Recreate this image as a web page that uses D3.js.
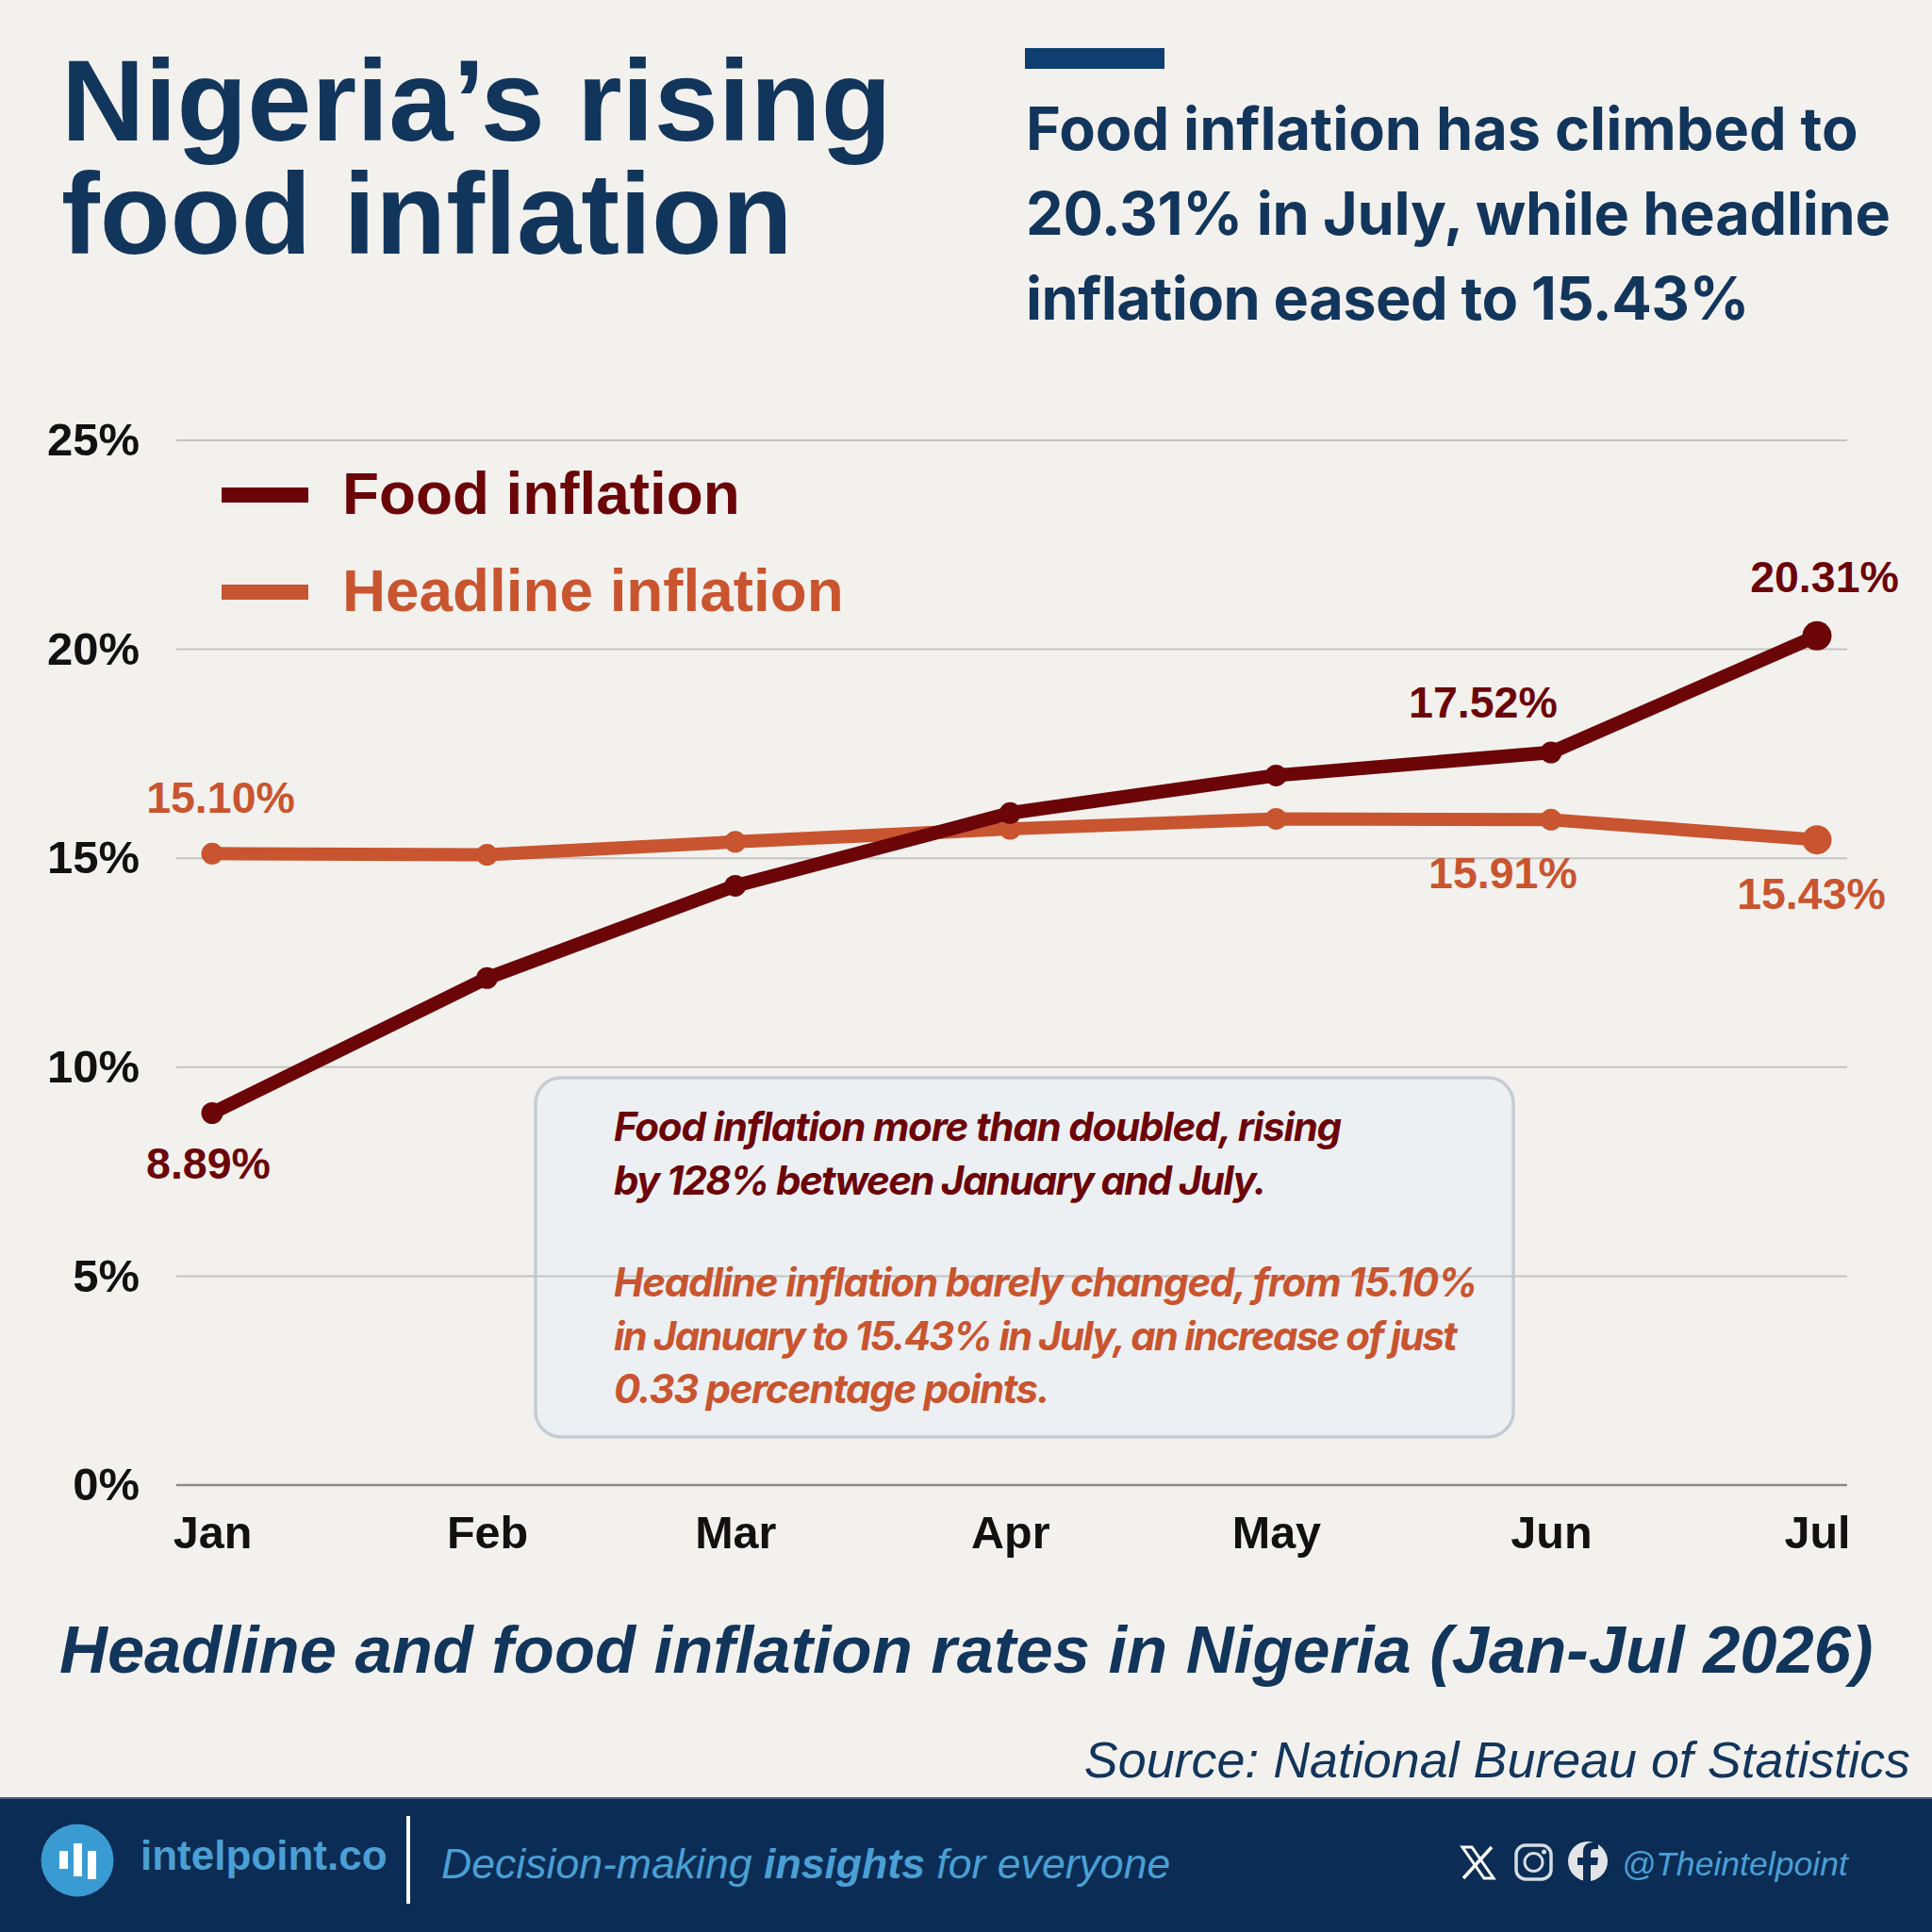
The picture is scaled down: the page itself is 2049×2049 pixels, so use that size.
<!DOCTYPE html>
<html><head><meta charset="utf-8">
<script src="https://cdnjs.cloudflare.com/ajax/libs/d3/7.8.5/d3.min.js"></script>
<style>html,body{margin:0;padding:0;background:#f3f1ee}svg{display:block}
.sans{font-family:"Liberation Sans",Arial,sans-serif}
.inter{font-family:Inter,sans-serif}</style></head><body>
<script>
const months = ["Jan","Feb","Mar","Apr","May","Jun","Jul"];
const monthDates = months.map((m,i)=>new Date(2026,i,1));
const foodInflation = [8.89,12.12,14.33,16.07,16.97,17.52,20.31];
const headlineInflation = [15.10,15.07,15.38,15.69,15.93,15.91,15.43];
const yTicks = [0,5,10,15,20,25];
const foodLabels = [[0,"8.89%"],[5,"17.52%"],[6,"20.31%"]];
const headlineLabels = [[0,"15.10%"],[5,"15.91%"],[6,"15.43%"]];
const titleLines = ["Nigeria’s rising","food inflation"];
const subtitleLines = ["Food inflation has climbed to","20.31% in July, while headline","inflation eased to 15.43%"];
const noteFood = ["Food inflation more than doubled, rising","by 128% between January and July."];
const noteHeadline = ["Headline inflation barely changed, from 15.10%","in January to 15.43% in July, an increase of just","0.33 percentage points."];

const W=2049,H=2049;
const NAVY="#12355b",FOOD="#6b0508",HEAD="#c8552f",FOOT="#0b2c54",BLUE="#4a9fd4";
const svg=d3.select("body").append("svg").attr("width",W).attr("height",H).attr("viewBox",`0 0 ${W} ${H}`);
svg.append("rect").attr("width",W).attr("height",H).attr("fill","#f3f1ee");
function T(x,y,s,size,fill,o={}){
  return svg.append("text").attr("x",x).attr("y",y).text(s).attr("class",o.cls||"sans")
   .attr("font-size",size).attr("fill",fill).attr("font-weight",o.w||700)
   .attr("font-style",o.i?"italic":"normal").attr("text-anchor",o.a||"start")
   .attr("letter-spacing",o.ls||0);
}
// Header
titleLines.forEach((s,i)=>T(65,149+i*120,s,122.5,NAVY));
svg.append("rect").attr("x",1087).attr("y",51).attr("width",148).attr("height",22).attr("fill","#0f3f70");
const subSpacing=[0,-0.28,-0.54];
subtitleLines.forEach((s,i)=>T(1088,159+i*90,s,63,NAVY,{cls:"inter",w:700,ls:subSpacing[i]}));

// Scales
const x=d3.scaleTime().domain([monthDates[0],monthDates[6]]).range([225,1927]);
const y=d3.scaleLinear().domain([0,25]).range([1574.5,466.5]);

// Note box sits under the gridlines
svg.append("rect").attr("x",568).attr("y",1143).attr("width",1037).attr("height",381).attr("rx",27)
 .attr("fill","#edf0f3").attr("stroke","#c6ccd2").attr("stroke-width",3.5);

// Y axis
const gy=svg.append("g").attr("transform","translate(187,0)")
 .call(d3.axisLeft(y).tickValues(yTicks).tickSize(-1772).tickPadding(39).tickFormat(d=>d+"%"));
gy.select(".domain").remove();
gy.selectAll("line").attr("stroke",d=>d===0?"#8a8a8a":"#c4c3c1").attr("stroke-width",d=>d===0?2.5:2);
gy.selectAll("text").attr("font-size",49).attr("font-weight",700).attr("fill","#111").attr("font-family","Liberation Sans").attr("dy","0.33em");
// X axis
const gx=svg.append("g").attr("transform","translate(0,1575)")
 .call(d3.axisBottom(x).tickValues(monthDates).tickSize(0).tickPadding(33).tickFormat((d,i)=>months[i]));
gx.select(".domain").remove();
gx.selectAll("text").attr("font-size",48.5).attr("font-weight",700).attr("fill","#111").attr("font-family","Liberation Sans").attr("dy","0.71em");

// Note text
const foodSpacing=[-1.19,-1.67], headSpacing=[-1.18,-1.85,-1.35];
noteFood.forEach((s,i)=>T(651,1210+i*56.5,s,42,FOOD,{cls:"inter",w:700,i:1,ls:foodSpacing[i]}));
noteHeadline.forEach((s,i)=>T(651,1375+i*56.5,s,42,HEAD,{cls:"inter",w:700,i:1,ls:headSpacing[i]}));

// Lines
const line=d3.line().x((d,i)=>x(monthDates[i])).y(d=>y(d));
function series(vals,color,sw){
  svg.append("path").attr("d",line(vals)).attr("fill","none").attr("stroke",color).attr("stroke-width",sw).attr("stroke-linejoin","round");
  svg.selectAll(null).data(vals).enter().append("circle")
   .attr("cx",(d,i)=>x(monthDates[i])).attr("cy",d=>y(d)).attr("r",(d,i)=>i===6?15.5:11.5).attr("fill",color);
}
series(headlineInflation,HEAD,14);
series(foodInflation,FOOD,14.5);

// Data labels
const foodOff={0:[-4,70],5:[-72,-37],6:[8,-46]};
const headOff={0:[9,-43],5:[-51,73],6:[-6,73]};
foodLabels.forEach(([i,s])=>T(x(monthDates[i])+foodOff[i][0],y(foodInflation[i])+foodOff[i][1],s,46.5,FOOD,{a:"middle"}));
headlineLabels.forEach(([i,s])=>T(x(monthDates[i])+headOff[i][0],y(headlineInflation[i])+headOff[i][1],s,46.5,HEAD,{a:"middle"}));

// Legend
[[FOOD,"Food inflation",525],[HEAD,"Headline inflation",628]].forEach(([c,s,yy])=>{
  svg.append("rect").attr("x",235).attr("y",yy-8).attr("width",92).attr("height",16).attr("fill",c);
  T(363,yy+19.5,s,63.8,c);
});

// Chart subtitle and source
T(63,1774,"Headline and food inflation rates in Nigeria (Jan-Jul 2026)",70.5,NAVY,{i:1});
T(2026,1885,"Source: National Bureau of Statistics",53.8,NAVY,{i:1,w:400,a:"end"});

// Footer
svg.append("rect").attr("x",0).attr("y",1907).attr("width",W).attr("height",H-1907).attr("fill",FOOT);
svg.append("rect").attr("x",0).attr("y",1906).attr("width",W).attr("height",2).attr("fill","#4a5f7e");
svg.append("circle").attr("cx",82).attr("cy",1973).attr("r",38.5).attr("fill","#3a9bd2");
[[63,1963,1982],[78,1955,1990],[93,1963,1993]].forEach(([xx,a,b])=>
  svg.append("rect").attr("x",xx).attr("y",a).attr("width",9).attr("height",b-a).attr("fill","#fff"));
T(149,1983,"intelpoint.co",44,BLUE);
svg.append("rect").attr("x",431).attr("y",1926).attr("width",4).attr("height",93).attr("fill","#fff");
const tag=T(468,1992,"",44.6,BLUE,{i:1,w:400});
tag.append("tspan").text("Decision-making ");
tag.append("tspan").text("insights").attr("font-weight",700);
tag.append("tspan").text(" for everyone");
// Icons
const ic=svg.append("g");
ic.append("path").attr("d","M1551 1959 L1561 1959 L1584 1992 L1574 1992 Z").attr("fill","none").attr("stroke","#fff").attr("stroke-width",3);
ic.append("path").attr("d","M1582 1959 L1552 1992").attr("stroke","#fff").attr("stroke-width",3.5);
ic.append("rect").attr("x",1608).attr("y",1957).attr("width",37).attr("height",36).attr("rx",10).attr("fill","none").attr("stroke","#d5dde5").attr("stroke-width",3.5);
ic.append("circle").attr("cx",1626.5).attr("cy",1975).attr("r",9.5).attr("fill","none").attr("stroke","#d5dde5").attr("stroke-width",3);
ic.append("circle").attr("cx",1637.5).attr("cy",1964).attr("r",2.5).attr("fill","#d5dde5");
ic.append("circle").attr("cx",1684).attr("cy",1974).attr("r",21).attr("fill","#e2e4e8");
ic.append("path").attr("d","M1687 1995 L1687 1978 L1694 1978 L1695 1970 L1687 1970 L1687 1965 Q1687 1961 1691 1961 L1695 1961 L1695 1954 L1689 1954 Q1679 1954 1679 1964 L1679 1970 L1673 1970 L1673 1978 L1679 1978 L1679 1995 Z").attr("fill",FOOT);
T(1720,1989,"@Theintelpoint",35.6,BLUE,{i:1,w:400});
</script></body></html>
